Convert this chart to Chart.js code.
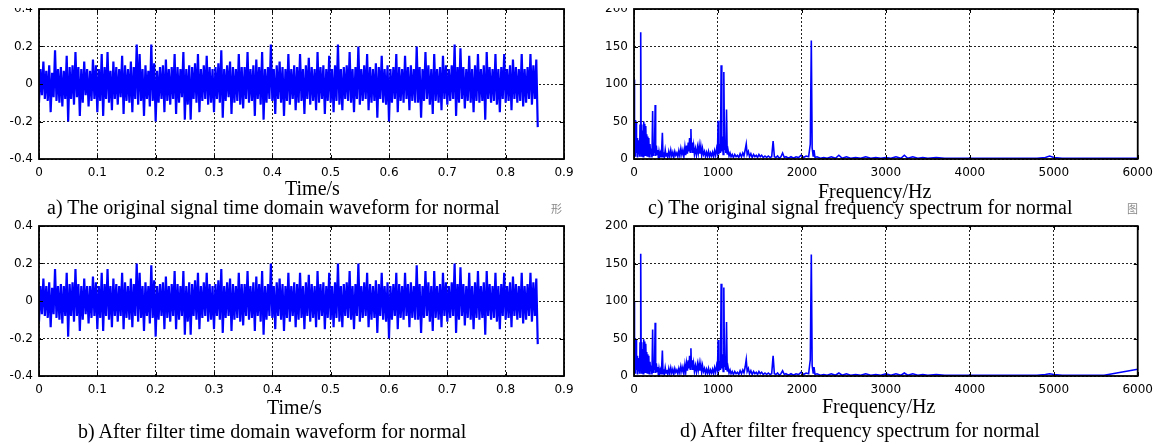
<!DOCTYPE html>
<html>
<head>
<meta charset="utf-8">
<script src="https://cdn.jsdelivr.net/npm/chart.js@4.4.0/dist/chart.umd.min.js"></script>
<style>
  html, body { margin: 0; padding: 0; background: #fff; }
  body { width: 1160px; height: 446px; position: relative; overflow: hidden; }
  canvas { position: absolute; }
  .clip { position: absolute; overflow: hidden; }
  .lbl { position: absolute; font-family: "Liberation Serif", "Times New Roman", serif; font-size: 20px; line-height: 20px; color: #000; white-space: nowrap; }
  .cjk { position: absolute; font-family: "Noto Sans CJK SC", sans-serif; font-size: 11px; line-height: 11px; color: #888; }
</style>
</head>
<body>
<!-- top row: the figure is cut just above the plot frames -->
<div class="clip" style="left:0;top:8px;width:590px;height:195px">
  <canvas id="panelA" width="590" height="205" style="left:0;top:-15px"></canvas>
</div>
<div class="clip" style="left:590px;top:8px;width:570px;height:195px">
  <canvas id="panelC" width="570" height="205" style="left:0;top:-15px"></canvas>
</div>
<canvas id="panelB" width="590" height="200" style="left:0;top:210px"></canvas>
<canvas id="panelD" width="570" height="200" style="left:590px;top:210px"></canvas>

<div class="lbl" style="left:285px;top:178px">Time/s</div>
<div class="lbl" style="left:47px;top:197px">a) The original signal time domain waveform for normal</div>
<div class="cjk" style="left:551px;top:203px">形</div>
<div class="lbl" style="left:818px;top:181px">Frequency/Hz</div>
<div class="lbl" style="left:648px;top:197px">c) The original signal frequency spectrum for normal</div>
<div class="cjk" style="left:1127px;top:203px">图</div>
<div class="lbl" style="left:267px;top:397px">Time/s</div>
<div class="lbl" style="left:78px;top:421px">b) After filter time domain waveform for normal</div>
<div class="lbl" style="left:822px;top:396px">Frequency/Hz</div>
<div class="lbl" style="left:680px;top:420px">d) After filter frequency spectrum for normal</div>

<script>
// ── Data ────────────────────────────────────────────────────────
// time waveform, one value every 2.5 ms from 0 to 0.855 s (20 per row = 0.05 s)
const SAMPLE_DT = 0.0025;

const timeOriginal = [
    -0.10, 0.08, -0.06, 0.12, -0.08, 0.07, -0.09, 0.10, -0.15, 0.06, -0.07, 0.18, -0.09, 0.08, -0.10, 0.09, -0.12, 0.07, -0.08, 0.15,
    -0.20, 0.09, -0.08, 0.10, -0.11, 0.17, -0.07, 0.09, -0.17, 0.08, -0.10, 0.12, -0.06, 0.08, -0.12, 0.07, -0.09, 0.13, -0.08, 0.10,
    -0.15, 0.08, -0.09, 0.16, -0.17, 0.09, -0.08, 0.17, -0.10, 0.07, -0.14, 0.12, -0.08, 0.09, -0.11, 0.08, -0.07, 0.15, -0.16, 0.10,
    -0.09, 0.08, -0.10, 0.12, -0.15, 0.09, -0.08, 0.21, -0.11, 0.16, -0.09, 0.08, -0.17, 0.10, -0.08, 0.07, -0.12, 0.21, -0.09, 0.11,
    -0.20, 0.07, -0.10, 0.09, -0.08, 0.10, -0.15, 0.13, -0.09, 0.08, -0.11, 0.09, -0.08, 0.16, -0.16, 0.09, -0.10, 0.08, -0.07, 0.17,
    -0.19, 0.08, -0.11, 0.10, -0.19, 0.09, -0.08, 0.11, -0.10, 0.16, -0.15, 0.08, -0.09, 0.10, -0.08, 0.15, -0.11, 0.09, -0.10, 0.08,
    -0.15, 0.09, -0.08, 0.11, -0.10, 0.18, -0.18, 0.08, -0.09, 0.10, -0.07, 0.12, -0.16, 0.09, -0.10, 0.08, -0.09, 0.16, -0.11, 0.09,
    -0.13, 0.09, -0.08, 0.17, -0.10, 0.08, -0.09, 0.10, -0.17, 0.13, -0.08, 0.09, -0.11, 0.17, -0.19, 0.08, -0.10, 0.09, -0.08, 0.21,
    -0.09, 0.08, -0.16, 0.10, -0.08, 0.12, -0.10, 0.09, -0.17, 0.08, -0.09, 0.16, -0.11, 0.08, -0.08, 0.10, -0.14, 0.09, -0.10, 0.16,
    -0.09, 0.08, -0.16, 0.10, -0.08, 0.14, -0.11, 0.09, -0.09, 0.08, -0.14, 0.17, -0.10, 0.09, -0.08, 0.10, -0.16, 0.08, -0.09, 0.15,
    -0.10, 0.08, -0.15, 0.10, -0.09, 0.21, -0.11, 0.08, -0.14, 0.09, -0.08, 0.10, -0.09, 0.17, -0.10, 0.08, -0.15, 0.09, -0.08, 0.20,
    -0.11, 0.08, -0.09, 0.10, -0.08, 0.16, -0.14, 0.09, -0.10, 0.08, -0.09, 0.11, -0.18, 0.09, -0.08, 0.15, -0.10, 0.08, -0.11, 0.10,
    -0.20, 0.08, -0.10, 0.09, -0.08, 0.16, -0.15, 0.09, -0.09, 0.08, -0.10, 0.15, -0.08, 0.09, -0.14, 0.10, -0.09, 0.08, -0.10, 0.20,
    -0.10, 0.09, -0.18, 0.08, -0.09, 0.17, -0.08, 0.10, -0.11, 0.08, -0.16, 0.16, -0.09, 0.08, -0.10, 0.09, -0.14, 0.15, -0.08, 0.10,
    -0.11, 0.08, -0.09, 0.10, -0.08, 0.21, -0.17, 0.09, -0.10, 0.19, -0.08, 0.09, -0.13, 0.08, -0.09, 0.15, -0.10, 0.08, -0.15, 0.10,
    -0.09, 0.16, -0.10, 0.08, -0.09, 0.10, -0.19, 0.17, -0.08, 0.09, -0.10, 0.08, -0.09, 0.16, -0.11, 0.08, -0.15, 0.09, -0.08, 0.16,
    -0.10, 0.08, -0.09, 0.10, -0.14, 0.13, -0.08, 0.09, -0.10, 0.08, -0.09, 0.16, -0.12, 0.08, -0.10, 0.09, -0.08, 0.16, -0.11, 0.10,
    -0.08, 0.13, -0.23
];

const timeFiltered = [
    -0.11, 0.08, -0.07, 0.12, -0.08, 0.08, -0.09, 0.10, -0.14, 0.07, -0.07, 0.17, -0.09, 0.08, -0.10, 0.09, -0.12, 0.08, -0.08, 0.15,
    -0.19, 0.09, -0.08, 0.10, -0.11, 0.17, -0.08, 0.09, -0.16, 0.08, -0.10, 0.12, -0.07, 0.08, -0.12, 0.08, -0.09, 0.13, -0.08, 0.10,
    -0.15, 0.08, -0.09, 0.15, -0.16, 0.09, -0.08, 0.17, -0.10, 0.08, -0.14, 0.12, -0.08, 0.09, -0.11, 0.08, -0.08, 0.15, -0.15, 0.10,
    -0.09, 0.08, -0.10, 0.12, -0.14, 0.09, -0.08, 0.20, -0.11, 0.15, -0.09, 0.08, -0.16, 0.10, -0.08, 0.08, -0.12, 0.19, -0.09, 0.11,
    -0.19, 0.08, -0.10, 0.09, -0.08, 0.10, -0.15, 0.13, -0.09, 0.08, -0.11, 0.09, -0.08, 0.16, -0.15, 0.09, -0.10, 0.08, -0.08, 0.16,
    -0.18, 0.08, -0.11, 0.10, -0.18, 0.09, -0.08, 0.11, -0.10, 0.15, -0.15, 0.08, -0.09, 0.10, -0.08, 0.15, -0.11, 0.09, -0.10, 0.08,
    -0.15, 0.09, -0.08, 0.11, -0.10, 0.17, -0.17, 0.08, -0.09, 0.10, -0.08, 0.12, -0.16, 0.09, -0.10, 0.08, -0.09, 0.15, -0.11, 0.09,
    -0.13, 0.09, -0.08, 0.16, -0.10, 0.08, -0.09, 0.10, -0.16, 0.13, -0.08, 0.09, -0.11, 0.16, -0.18, 0.08, -0.10, 0.09, -0.08, 0.20,
    -0.09, 0.08, -0.15, 0.10, -0.08, 0.12, -0.10, 0.09, -0.16, 0.08, -0.09, 0.15, -0.11, 0.08, -0.08, 0.10, -0.14, 0.09, -0.10, 0.15,
    -0.09, 0.08, -0.15, 0.10, -0.08, 0.14, -0.11, 0.09, -0.09, 0.08, -0.14, 0.16, -0.10, 0.09, -0.08, 0.10, -0.15, 0.08, -0.09, 0.15,
    -0.10, 0.08, -0.14, 0.10, -0.09, 0.20, -0.11, 0.08, -0.14, 0.09, -0.08, 0.10, -0.09, 0.16, -0.10, 0.08, -0.15, 0.09, -0.08, 0.20,
    -0.11, 0.08, -0.09, 0.10, -0.08, 0.15, -0.14, 0.09, -0.10, 0.08, -0.09, 0.11, -0.17, 0.09, -0.08, 0.15, -0.10, 0.08, -0.11, 0.10,
    -0.20, 0.08, -0.10, 0.09, -0.08, 0.15, -0.15, 0.09, -0.09, 0.08, -0.10, 0.15, -0.08, 0.09, -0.14, 0.10, -0.09, 0.08, -0.10, 0.19,
    -0.10, 0.09, -0.17, 0.08, -0.09, 0.16, -0.08, 0.10, -0.11, 0.08, -0.16, 0.16, -0.09, 0.08, -0.10, 0.09, -0.14, 0.15, -0.08, 0.10,
    -0.11, 0.08, -0.09, 0.10, -0.08, 0.20, -0.17, 0.09, -0.10, 0.18, -0.08, 0.09, -0.13, 0.08, -0.09, 0.15, -0.10, 0.08, -0.15, 0.10,
    -0.09, 0.16, -0.10, 0.08, -0.09, 0.10, -0.18, 0.16, -0.08, 0.09, -0.10, 0.08, -0.09, 0.15, -0.11, 0.08, -0.15, 0.09, -0.08, 0.15,
    -0.10, 0.08, -0.09, 0.10, -0.14, 0.13, -0.08, 0.09, -0.10, 0.08, -0.09, 0.15, -0.12, 0.08, -0.10, 0.09, -0.08, 0.15, -0.11, 0.10,
    -0.08, 0.12, -0.23
];

// spectrum: frequency (Hz) and magnitude
const specFreq = [
    0, 6, 12, 18, 24, 30, 36, 42, 48, 54,
    60, 66, 72, 80, 86, 92, 98, 104, 110, 116,
    122, 128, 134, 140, 146, 152, 158, 164, 170, 176,
    182, 190, 198, 206, 214, 222, 228, 236, 244, 252,
    258, 266, 274, 282, 290, 298, 306, 314, 322, 330,
    338, 346, 354, 362, 372, 382, 392, 402, 414, 426,
    438, 450, 462, 474, 486, 498, 510, 522, 534, 546,
    558, 570, 582, 594, 606, 616, 626, 636, 646, 654,
    662, 670, 678, 684, 692, 700, 710, 720, 732, 744,
    756, 766, 776, 786, 796, 806, 816, 828, 840, 852,
    864, 876, 888, 900, 912, 924, 936, 948, 960, 972,
    984, 994, 1002, 1010, 1020, 1030, 1038, 1046, 1054, 1062,
    1070, 1078, 1086, 1094, 1102, 1110, 1120, 1132, 1144, 1156,
    1170, 1184, 1200, 1216, 1232, 1248, 1264, 1280, 1296, 1310,
    1324, 1337, 1348, 1362, 1376, 1392, 1408, 1424, 1440, 1456,
    1472, 1488, 1504, 1520, 1540, 1560, 1580, 1600, 1620, 1640,
    1657, 1672, 1690, 1710, 1730, 1750, 1770, 1790, 1810, 1840,
    1870, 1900, 1930, 1960, 1990, 2020, 2050, 2080, 2100, 2112,
    2122, 2134, 2144, 2156, 2180, 2220, 2260, 2300, 2350, 2400,
    2440, 2480, 2530, 2580, 2640, 2700, 2760, 2820, 2880, 2940,
    3000, 3060, 3120, 3180, 3220, 3260, 3320, 3380, 3440, 3500,
    3600, 3700, 3800, 3900, 4000, 4200, 4400, 4600, 4800, 4900,
    4950, 5000, 5100, 5200, 5300, 5400, 5500, 5600, 5700, 5800,
    5900, 6000
];

const specOriginal = [
    106, 4, 52, 3, 50, 8, 28, 2, 25, 6,
    20, 3, 45, 169, 4, 46, 10, 38, 3, 50,
    12, 47, 5, 44, 18, 33, 4, 30, 8, 28,
    3, 20, 6, 14, 2, 64, 5, 20, 8, 72,
    4, 18, 6, 12, 2, 10, 4, 8, 3, 14,
    35, 3, 9, 2, 12, 4, 8, 2, 10, 3,
    12, 4, 9, 2, 10, 5, 8, 3, 11, 4,
    14, 6, 12, 3, 16, 5, 18, 7, 22, 10,
    28, 9, 40, 12, 22, 8, 18, 6, 14, 5,
    16, 8, 18, 7, 17, 5, 14, 6, 10, 3,
    9, 4, 10, 3, 8, 4, 9, 3, 11, 5,
    14, 8, 51, 6, 20, 8, 125, 10, 30, 6,
    116, 12, 25, 8, 66, 6, 12, 4, 8, 3,
    6, 2, 6, 3, 5, 2, 7, 3, 8, 4,
    12, 20, 6, 10, 3, 7, 2, 6, 3, 5,
    2, 6, 3, 5, 2, 4, 2, 4, 2, 3,
    24, 3, 2, 4, 1, 3, 8, 2, 3, 1,
    3, 1, 3, 2, 5, 2, 4, 3, 20, 158,
    15, 4, 12, 2, 3, 1, 2, 1, 3, 1,
    5, 1, 3, 1, 2, 1, 3, 1, 2, 1,
    2, 1, 3, 1, 5, 1, 3, 1, 2, 1,
    2, 1, 1, 1, 1, 1, 1, 1, 1, 2,
    4, 2, 1, 1, 1, 1, 1, 1, 1, 1,
    1, 1
];

const specFiltered = [
    100, 4, 50, 3, 48, 8, 27, 2, 24, 6,
    19, 3, 44, 163, 4, 45, 10, 36, 3, 49,
    12, 46, 5, 43, 17, 32, 4, 29, 8, 27,
    3, 19, 6, 14, 2, 62, 5, 19, 8, 71,
    4, 17, 6, 12, 2, 10, 4, 8, 3, 13,
    34, 3, 9, 2, 11, 4, 8, 2, 10, 3,
    11, 4, 9, 2, 10, 5, 8, 3, 10, 4,
    13, 6, 12, 3, 15, 5, 17, 7, 21, 10,
    27, 9, 37, 12, 21, 8, 17, 6, 14, 5,
    16, 8, 17, 7, 16, 5, 14, 6, 10, 3,
    9, 4, 10, 3, 8, 4, 9, 3, 11, 5,
    14, 8, 48, 6, 20, 8, 123, 10, 29, 6,
    118, 12, 24, 8, 72, 6, 12, 4, 8, 3,
    6, 2, 6, 3, 5, 2, 7, 3, 8, 4,
    12, 22, 6, 10, 3, 7, 2, 6, 3, 5,
    2, 6, 3, 5, 2, 4, 2, 4, 2, 3,
    27, 3, 2, 4, 1, 3, 7, 2, 3, 1,
    3, 1, 3, 2, 5, 2, 4, 3, 22, 162,
    14, 4, 12, 2, 3, 1, 2, 1, 3, 1,
    4, 1, 3, 1, 2, 1, 3, 1, 2, 1,
    3, 1, 3, 1, 4, 1, 3, 1, 2, 1,
    2, 1, 1, 1, 1, 1, 1, 1, 1, 2,
    3, 2, 1, 1, 1, 1, 1, 1, 3, 5,
    7, 9
];

// tick labels
const timeTicks = [0, 0.1, 0.2, 0.3, 0.4, 0.5, 0.6, 0.7, 0.8, 0.9];
const ampTicks  = [-0.4, -0.2, 0, 0.2, 0.4];
const freqTicks = [0, 1000, 2000, 3000, 4000, 5000, 6000];
const magTicks  = [0, 50, 100, 150, 200];

// ── Frame + inward tick marks (MATLAB style box) ───────────────
const boxFrame = {
    id: 'boxFrame',
    afterDraw(chart) {
        const { ctx, chartArea: a, scales } = chart;
        ctx.save();
        ctx.strokeStyle = '#000';
        ctx.lineWidth = 1;
        ctx.beginPath();
        scales.x.ticks.forEach(t => {
            const px = Math.round(scales.x.getPixelForValue(t.value)) + 0.5;
            ctx.moveTo(px, a.bottom); ctx.lineTo(px, a.bottom - 4);
            ctx.moveTo(px, a.top);    ctx.lineTo(px, a.top + 4);
        });
        scales.y.ticks.forEach(t => {
            const py = Math.round(scales.y.getPixelForValue(t.value)) + 0.5;
            ctx.moveTo(a.left, py);  ctx.lineTo(a.left + 4, py);
            ctx.moveTo(a.right, py); ctx.lineTo(a.right - 4, py);
        });
        ctx.stroke();
        ctx.lineWidth = 1.8;
        ctx.strokeRect(a.left, a.top, a.right - a.left, a.bottom - a.top);
        ctx.restore();
    }
};

function toPoints(xs, ys) {
    return ys.map((y, i) => ({ x: xs[i], y: y }));
}

function makePanel(id, points, opts) {
    const tickFont = { family: 'DejaVu Sans', size: 12 };
    const gridStyle = { color: '#222', lineWidth: 1, drawTicks: false };
    new Chart(document.getElementById(id), {
        type: 'line',
        data: {
            datasets: [{
                data: points,
                borderColor: '#0000ff',
                borderWidth: opts.lineWidth,
                pointRadius: 0,
                tension: 0,
                fill: false,
            }],
        },
        options: {
            responsive: false,
            animation: false,
            devicePixelRatio: 1,
            parsing: false,
            normalized: true,
            layout: { autoPadding: false, padding: { left: 0, top: opts.padTop, right: opts.padRight, bottom: 0 } },
            plugins: { legend: { display: false }, tooltip: { enabled: false } },
            scales: {
                x: {
                    type: 'linear',
                    min: opts.xTicks[0],
                    max: opts.xTicks[opts.xTicks.length - 1],
                    afterBuildTicks: ax => { ax.ticks = opts.xTicks.map(v => ({ value: v })); },
                    afterFit: ax => { ax.height = opts.xHeight; },
                    grid: gridStyle,
                    border: { display: false, dash: [2, 2] },
                    ticks: { font: tickFont, color: '#000', padding: 7, maxRotation: 0,
                             callback: v => String(v) },
                },
                y: {
                    type: 'linear',
                    min: opts.yTicks[0],
                    max: opts.yTicks[opts.yTicks.length - 1],
                    afterBuildTicks: ax => { ax.ticks = opts.yTicks.map(v => ({ value: v })); },
                    afterFit: ax => { ax.width = opts.yWidth; },
                    grid: gridStyle,
                    border: { display: false, dash: [2, 2] },
                    ticks: { font: tickFont, color: '#000', padding: 6,
                             callback: v => String(v) },
                },
            },
        },
        plugins: [boxFrame],
    });
}

const timeAxis = timeOriginal.map((_, i) => +(i * SAMPLE_DT).toFixed(4));

// canvas A/C start 7px above the page, B/D at y=210; chart areas span y 9-159 and 226-376
makePanel('panelA', toPoints(timeAxis, timeOriginal),
    { xTicks: timeTicks, yTicks: ampTicks, padTop: 16, padRight: 26, xHeight: 39, yWidth: 39, lineWidth: 2.2 });
makePanel('panelB', toPoints(timeAxis, timeFiltered),
    { xTicks: timeTicks, yTicks: ampTicks, padTop: 16, padRight: 26, xHeight: 34, yWidth: 39, lineWidth: 2.2 });
makePanel('panelC', toPoints(specFreq, specOriginal),
    { xTicks: freqTicks, yTicks: magTicks, padTop: 16, padRight: 22, xHeight: 39, yWidth: 44, lineWidth: 1.6 });
makePanel('panelD', toPoints(specFreq, specFiltered),
    { xTicks: freqTicks, yTicks: magTicks, padTop: 16, padRight: 22, xHeight: 34, yWidth: 44, lineWidth: 1.6 });
</script>
</body>
</html>
